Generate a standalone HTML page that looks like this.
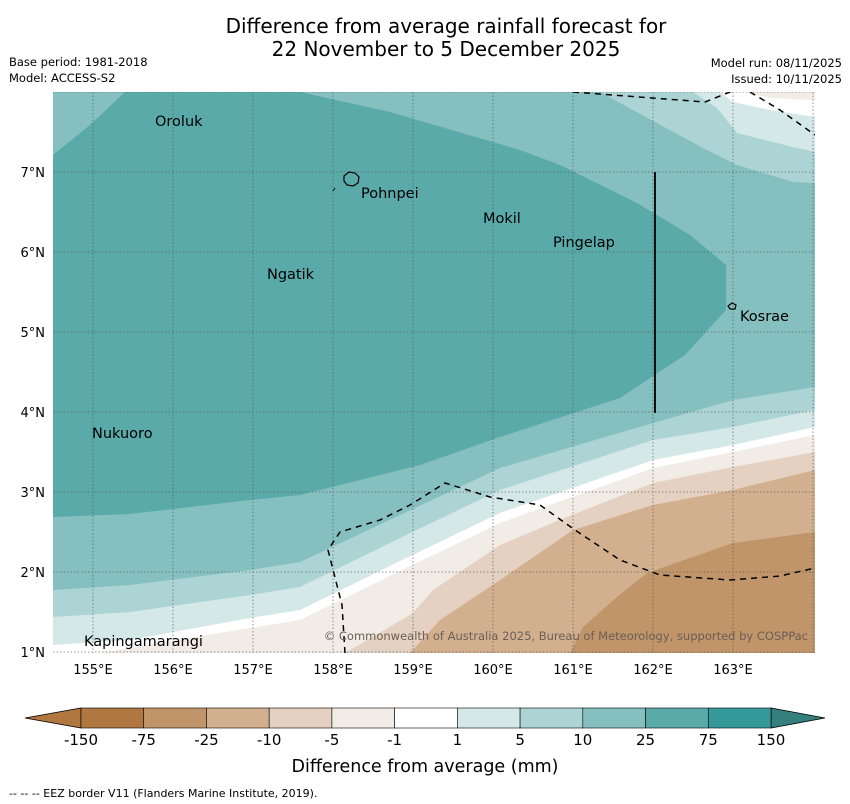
<!DOCTYPE html>
<html><head><meta charset="utf-8"><style>
body{margin:0;background:#fff;width:850px;height:804px;overflow:hidden;font-family:"Liberation Sans","DejaVu Sans",sans-serif}
svg{display:block}
</style></head><body>
<svg id="chart" width="850" height="804" viewBox="0 0 850 804" font-family="DejaVu Sans, Liberation Sans, sans-serif">
<text x="446" y="33" font-size="20" text-anchor="middle">Difference from average rainfall forecast for</text>
<text x="446" y="56" font-size="20" text-anchor="middle">22 November to 5 December 2025</text>
<text x="9" y="66" font-size="11.5">Base period: 1981-2018</text>
<text x="9" y="82" font-size="11.5">Model: ACCESS-S2</text>
<text x="842" y="67" font-size="11.5" text-anchor="end">Model run: 08/11/2025</text>
<text x="842" y="83" font-size="11.5" text-anchor="end">Issued: 10/11/2025</text>
<defs><clipPath id="mapclip"><rect x="53" y="92" width="762" height="561"/></clipPath></defs>
<g id="map" clip-path="url(#mapclip)">
<rect x="53" y="92" width="762" height="561" fill="#85bfbf"/>
<polygon fill="#acd4d4" points="53,590 130,585 250,570 300,562 400,515 500,468 653,423 733,400 815,387 815,653 53,653"/>
<polygon fill="#d4e8e8" points="53,617 130,612 250,595 300,587 400,538 500,490 653,440 733,427 815,410 815,653 53,653"/>
<polygon fill="#ffffff" points="53,645 130,640 250,618 300,610 400,561 500,513 653,460 733,445 815,427 815,653 53,653"/>
<polygon fill="#f2ece6" points="100,653 200,636 300,620 400,571 500,523 653,468 733,452 815,435 815,653"/>
<polygon fill="#e4d1c1" points="345,653 413,613 433,590 500,545 567,517 653,483 733,467 815,452 815,653"/>
<polygon fill="#d2b08f" points="410,653 440,620 500,580 573,530 653,505 733,490 815,470 815,653"/>
<polygon fill="#c0956a" points="570,653 583,627 617,597 647,573 733,543 815,532 815,653"/>
<polygon fill="#5aaaaa" points="53,155 90,125 125,92 300,92 390,112 520,150 560,165 637,203 690,235 726,265 726,310 685,355 620,398 500,437 420,465 300,495 250,500 130,514 53,517"/>
<polygon fill="#acd4d4" points="600,92 655,122 703,148 737,165 793,182 815,183 815,92"/>
<polygon fill="#d4e8e8" points="693,92 717,108 737,133 793,147 815,152 815,92"/>
<polygon fill="#ffffff" points="720,92 733,102 770,110 815,117 815,92"/>
<polygon fill="#f2ece6" points="745,92 770,98 815,100 815,92"/>
<g id="grid" stroke="#555" stroke-width="0.8" stroke-dasharray="1.5,2" opacity="0.8"></g>
<line x1="655" y1="172" x2="655" y2="413" stroke="#111" stroke-width="2"/>
<polyline fill="none" stroke="#000" stroke-width="1.5" stroke-dasharray="6,5" points="345,653 342,605 328,550 340,532 380,520 410,505 445,483 490,497 540,505 575,530 620,560 660,575 730,580 780,576 815,568"/>
<polyline fill="none" stroke="#000" stroke-width="1.5" stroke-dasharray="6,5" points="573,92 705,102 735,90"/>
<polyline fill="none" stroke="#000" stroke-width="1.5" stroke-dasharray="6,5" points="750,92 780,110 815,135"/>
<path d="M344,176 l5,-4 6,1 4,4 -1,6 -5,3 -6,-1 -3,-4z" fill="none" stroke="#000" stroke-width="1.2"/>
<path d="M728,306 l4,-3 4,2 -1,4 -5,0z" fill="none" stroke="#000" stroke-width="1.2"/>
<line x1="333" y1="191" x2="335" y2="188" stroke="#000"/>
<text x="808" y="640" font-size="11.5" fill="#6b5e55" text-anchor="end">© Commonwealth of Australia 2025, Bureau of Meteorology, supported by COSPPac</text>
</g>
<g font-size="14.5" fill="#000">
<text x="155" y="126">Oroluk</text>
<text x="361" y="198">Pohnpei</text>
<text x="483" y="223">Mokil</text>
<text x="553" y="247">Pingelap</text>
<text x="267" y="279">Ngatik</text>
<text x="740" y="321">Kosrae</text>
<text x="92" y="438">Nukuoro</text>
<text x="84" y="646">Kapingamarangi</text>
</g>
<g id="ticks" font-size="13"></g>
<g id="cbar"></g>
<text x="425" y="772" font-size="17.5" text-anchor="middle">Difference from average (mm)</text>
<text x="9" y="797" font-size="11">--  --  -- EEZ border V11 (Flanders Marine Institute, 2019).</text>
</svg>
<script>
const lonTicks=[155,156,157,158,159,160,161,162,163];
const latTicks=[1,2,3,4,5,6,7];
const cbarLabels=["-150","-75","-25","-10","-5","-1","1","5","10","25","75","150"];
const cbarColors=["#b07840","#c0956a","#d2b08f","#e4d1c1","#f2ece6","#ffffff","#d4e8e8","#acd4d4","#85bfbf","#5aaaaa","#35999a"];
const NS="http://www.w3.org/2000/svg";
const xLon=l=>93+(l-155)*80, yLat=l=>652-(l-1)*80;
function mk(tag,at,parent){const e=document.createElementNS(NS,tag);for(const k in at)e.setAttribute(k,at[k]);parent.appendChild(e);return e;}
const grid=document.getElementById('grid'),ticks=document.getElementById('ticks'),cb=document.getElementById('cbar');
lonTicks.concat([164]).forEach(l=>{const e=mk('line',{x1:xLon(l),x2:xLon(l),y1:92,y2:653},grid);

});
latTicks.concat([8]).forEach(l=>{const e=mk('line',{x1:53,x2:815,y1:yLat(l),y2:yLat(l)},grid);

});
lonTicks.forEach(l=>{const t=mk('text',{x:xLon(l),y:674,'text-anchor':'middle'},ticks);t.textContent=l+'°E';

});
latTicks.forEach(l=>{const t=mk('text',{x:45,y:yLat(l)+5,'text-anchor':'end'},ticks);t.textContent=l+'°N';

});
const x0=81,x1=771,w=(x1-x0)/cbarColors.length;
const lt=mk('polygon',{points:`25,718 ${x0},708 ${x0},728`,fill:cbarColors[0],stroke:'#000','stroke-width':0.8},cb);


const rt=mk('polygon',{points:`825,718 ${x1},708 ${x1},728`,fill:'#357f7f',stroke:'#000','stroke-width':0.8},cb);


cbarColors.forEach((c,i)=>{const r=mk('rect',{x:x0+i*w,y:708,width:w,height:20,fill:c,stroke:'#000','stroke-width':0.6},cb);

});
cbarLabels.forEach((s,i)=>{const t=mk('text',{x:x0+i*w,y:745,'font-size':15,'text-anchor':'middle'},cb);t.textContent=s;

});
</script>
</body></html>
